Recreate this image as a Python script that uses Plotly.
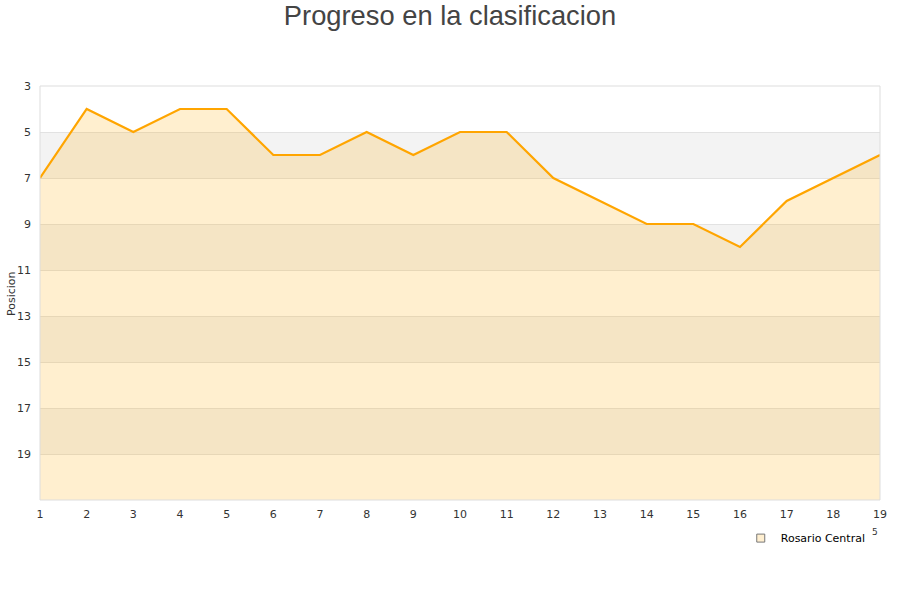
import plotly.graph_objects as go

jornadas = list(range(1, 20))
posicion = [7, 4, 5, 4, 4, 6, 6, 5, 6, 5, 5, 7, 8, 9, 9, 10, 8, 7, 6]
team = "Rosario Central"
y_ticks = [3, 5, 7, 9, 11, 13, 15, 17, 19]
bands = [(5, 7), (9, 11), (13, 15), (17, 19)]
y_bottom = 21

fig = go.Figure()
fig.add_trace(go.Scatter(x=jornadas, y=[y_bottom] * len(jornadas), mode="lines",
                         line=dict(width=0, color="rgba(0,0,0,0)"), showlegend=False,
                         hoverinfo="skip"))
fig.add_trace(go.Scatter(x=jornadas, y=posicion, mode="lines", fill="tonexty",
                         fillcolor="rgba(255,170,0,0.19)",
                         line=dict(color="#FFA500", width=2.2), showlegend=False, name=team))
fig.add_trace(go.Scatter(x=[None], y=[None], mode="markers", name=team,
                         marker=dict(symbol="square", size=8, color="#FFEFD0",
                                     line=dict(color="#777", width=1))))

shapes = []
for y0, y1 in bands:
    shapes.append(dict(type="rect", xref="paper", x0=0, x1=1, yref="y", y0=y0, y1=y1,
                       fillcolor="#f3f3f3", line=dict(width=0), layer="below"))
shapes.append(dict(type="rect", xref="paper", yref="paper", x0=0, x1=1, y0=0, y1=1,
                   line=dict(color="#dddddd", width=1), fillcolor="rgba(0,0,0,0)"))

fig.update_layout(
    width=900, height=600,
    margin=dict(l=40, r=20, t=86, b=100, autoexpand=False),
    paper_bgcolor="white", plot_bgcolor="white",
    title=dict(text="Progreso en la clasificacion", x=0.5, xanchor="center",
               y=1 - 15.5 / 600, yref="container", yanchor="middle",
               font=dict(family="Liberation Sans, Arial", size=27.3, color="#444444")),
    shapes=shapes,
    showlegend=True,
    legend=dict(x=0.989, y=-0.057, xanchor="right", yanchor="top", orientation="h",
                font=dict(family="DejaVu Sans", size=11, color="#000"), bgcolor="rgba(0,0,0,0)"),
    xaxis=dict(range=[1, 19], tickmode="array", tickvals=jornadas, showgrid=False, zeroline=False,
               showline=False, ticks="", automargin=False, ticklabelstandoff=6,
               tickfont=dict(family="DejaVu Sans", size=11, color="#333")),
    yaxis=dict(range=[y_bottom, 3], tickmode="array", tickvals=y_ticks, showgrid=True,
               gridcolor="#e2e2e2", gridwidth=1, zeroline=False, showline=False, ticks="",
               automargin=False, ticklabelstandoff=8,
               tickfont=dict(family="DejaVu Sans", size=11, color="#333")),
    annotations=[
        dict(text="Posicion", x=(11 - 40) / 840, y=1 - (293 - 86) / 414, xref="paper", yref="paper",
             textangle=-90, xanchor="center", yanchor="middle", showarrow=False,
             font=dict(family="DejaVu Sans", size=11, color="#333")),
        dict(text="5", x=(875 - 40) / 840, y=-(532 - 500) / 414, xref="paper", yref="paper",
             yanchor="middle", xanchor="center",
             showarrow=False, font=dict(family="DejaVu Sans", size=9, color="#333"))],
)

fig.write_html("out.html", post_script="document.body.style.margin='0';",
               config={"displayModeBar": False})
